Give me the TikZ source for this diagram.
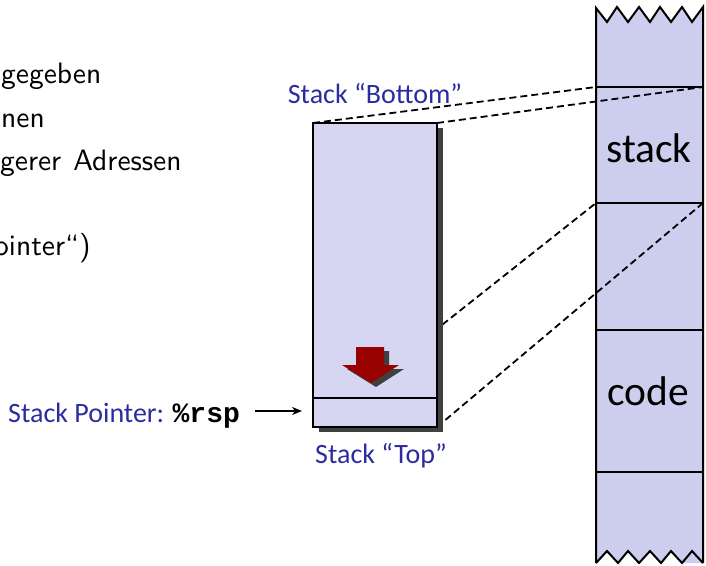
\documentclass[tikz,border=0pt]{standalone}
\usepackage{fontspec}
\newfontfamily\carl{Carlito}
\newfontfamily\mono{Liberation Mono}
\newfontfamily\lmsten[Extension=.otf]{lmsans10-regular}
\usetikzlibrary{arrows.meta}
\definecolor{memfill}{RGB}{205,205,238}
\definecolor{boxfill}{RGB}{214,214,242}
\definecolor{labelblue}{RGB}{44,44,160}
\definecolor{arrowred}{RGB}{153,0,0}
\definecolor{shadowgray}{RGB}{64,64,64}
\tikzset{
  memline/.style={line width=2pt, black},
  guide/.style={line width=1.8pt, dash pattern=on 7pt off 4pt, black},
  stackbox/.style={draw=black, fill=boxfill, line width=2.6pt, inner sep=0pt,
    minimum width=124pt, minimum height=304pt},
  bluelabel/.style={text=labelblue, inner sep=0pt, font=\carl\fontsize{28}{32}\selectfont},
  memlabel/.style={inner sep=0pt, font=\carl\fontsize{41.5}{46}\selectfont},
  lefttext/.style={inner sep=0pt, anchor=base west, font=\lmsten\fontsize{29.5}{33}\selectfont},
}
\begin{document}
\begin{tikzpicture}[x=1pt, y=-1pt]
\useasboundingbox (0,0) rectangle (706,565);
\begin{scope}
\clip (0,0) rectangle (706,565);
% left partial text
\node[lefttext] (t1) at (1,83) {gegeben};
\node[lefttext] (t2) at (1,127) {nen};
\node[lefttext] (t3) at (0,170) {gerer\hspace{12pt}Adressen};
\node[lefttext] (t4) at (-6,255) {ointer“)};

% memory column
\fill[memfill] (596,8) -- (607,22) -- (617,7) -- (628,22) -- (639,7) -- (650,22) -- (660,7)
  -- (671,22) -- (682,7) -- (692,22) -- (703,7) -- (703,563) -- (682,563) -- (671,551)
  -- (661,563) -- (650,551) -- (639,563) -- (628,551) -- (618,563) -- (607,551) -- (596,563) -- cycle;
\draw[memline, line join=miter] (596,563) -- (596,8) -- (607,22) -- (617,7) -- (628,22) -- (639,7) -- (650,22) -- (660,7)
  -- (671,22) -- (682,7) -- (692,22) -- (703,7) -- (703,563);
\draw[memline, line join=miter] (596,563) -- (607,551) -- (618,563) -- (628,551) -- (639,563) -- (650,551)
  -- (661,563) -- (671,551) -- (682,563) -- (692,551) -- (703,563);
\coordinate (m1l) at (596,87);
\coordinate (m1r) at (703,87);
\coordinate (m2l) at (596,203);
\coordinate (m2r) at (703,203);
\coordinate (m3l) at (596,330);
\coordinate (m3r) at (703,330);
\coordinate (m4l) at (596,472);
\coordinate (m4r) at (703,472);
\draw[memline] (m1l) -- (m1r);
\draw[memline] (m2l) -- (m2r);
\draw[memline] (m3l) -- (m3r);
\draw[memline] (m4l) -- (m4r);
\node[memlabel, anchor=base] (stacklbl) at (649,162) {stack};
\node[memlabel, anchor=base] (codelbl) at (648,405) {code};

% stack box geometry (for guides)
\coordinate (bnw) at (313,123);
\coordinate (bne) at (437,123);
\coordinate (bsw) at (313,427);
\coordinate (bse) at (437,427);
\draw[guide] (bnw) -- (m1l);
\draw[guide] (bne) -- (m1r);
\draw[guide] (bsw) -- (m2l);
\draw[guide] (bse) -- (m2r);

% shadow and box
\fill[shadowgray] (319,128) rectangle (443,432);
\node[stackbox] (box) at (375,275) {};
\coordinate (sepl) at (313,398);
\coordinate (sepr) at (437,398);
\draw[line width=2pt] (sepl) -- (sepr);

% red arrow with shadow
\fill[shadowgray] (361,351) -- (389,351) -- (389,369) -- (404,369) -- (376,387) -- (347,369) -- (361,369) -- cycle;
\fill[arrowred] (356,347) -- (384,347) -- (384,365) -- (399,365) -- (371,383) -- (342,365) -- (356,365) -- cycle;

% labels
\node[bluelabel, anchor=base] (bottomlbl) at (375,103) {Stack “Bottom”};
\node[bluelabel, anchor=base] (toplbl) at (381,463) {Stack “Top”};
\node[bluelabel, anchor=base west] (splbl) at (8,422) {Stack Pointer: {\color{black}\mono\bfseries\%rsp}};
\coordinate (sptip) at (302,411);
\draw[line width=1.6pt, -{Stealth[length=10pt, width=8pt]}] ([xshift=15pt]splbl.east |- sptip) -- (sptip);
\end{scope}
\end{tikzpicture}
\end{document}
